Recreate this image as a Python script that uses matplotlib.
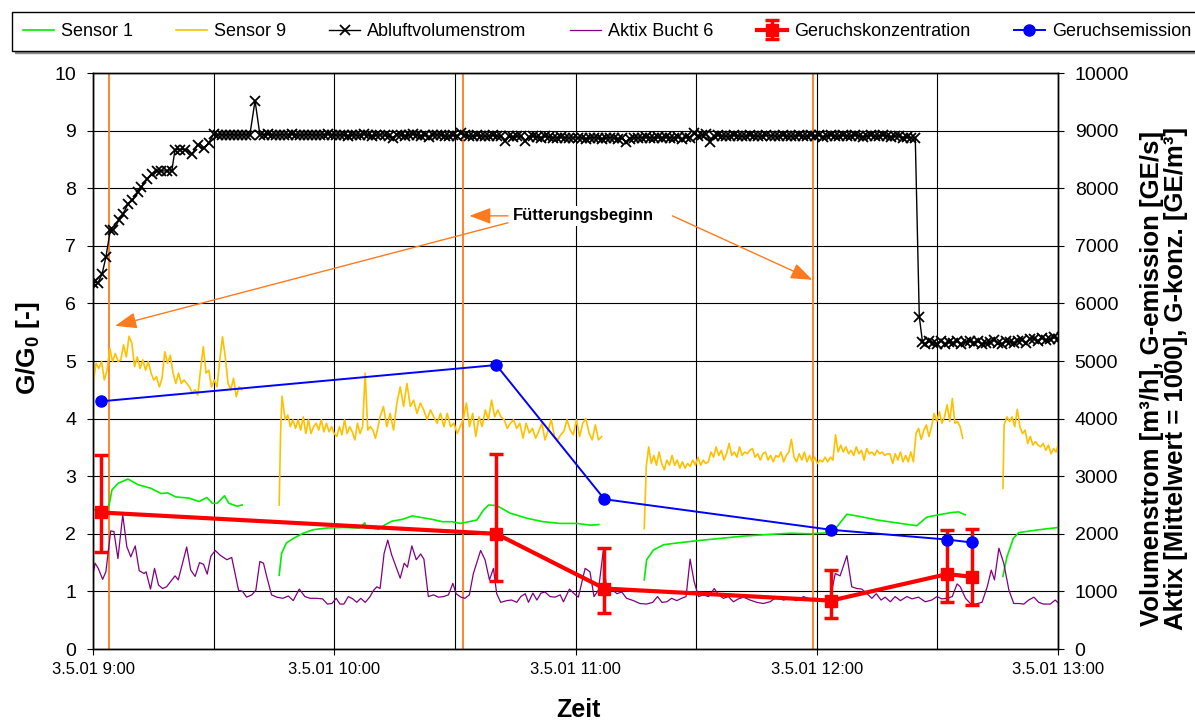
import numpy as np
import matplotlib
matplotlib.use('Agg')
import matplotlib.pyplot as plt

plt.rcParams['font.family'] = ['Liberation Sans', 'DejaVu Sans']
plt.rcParams['mathtext.fontset'] = 'custom'
plt.rcParams['mathtext.rm'] = 'Liberation Sans'
plt.rcParams['mathtext.bf'] = 'Liberation Sans:bold'

# ---------------- data (time in minutes after 3.5.01 9:00) ----------------
xtick_minutes = [0, 60, 120, 180, 240]
xtick_labels = ['3.5.01 9:00', '3.5.01 10:00', '3.5.01 11:00', '3.5.01 12:00', '3.5.01 13:00']

# Sensor 1 (G/G0), segments of (time, value)
s1_segments = [
    ([0, 2.6, 3.5, 4.1, 4.7, 6.3, 8.7, 11.3, 14.4, 16.9, 18.6, 20.6, 23.9, 26.4, 28.3, 29.7, 30.9, 32.7, 33.8, 35.8, 37.1],
     [2.41, 2.43, 2.41, 2.53, 2.76, 2.88, 2.95, 2.85, 2.79, 2.70, 2.71, 2.64, 2.62, 2.56, 2.63, 2.53, 2.53, 2.66, 2.53, 2.48, 2.50]),
    ([46.3, 46.9, 48.1, 49.8, 52.3, 54.7, 58, 62.2, 66.3, 67.6, 67.8, 69.4, 71, 72.7, 74.4, 76.9, 79.4, 81.9, 84.4, 86.9,
      89.3, 91.4, 95.5, 97.1, 98.4, 100.4, 103.7, 107.9, 112, 116.2, 120.4, 123.7, 125.8],
     [1.28, 1.66, 1.84, 1.92, 2.01, 2.07, 2.10, 2.11, 2.10, 2.19, 2.10, 2.10, 2.08, 2.16, 2.22, 2.25, 2.31, 2.28, 2.25, 2.21,
      2.21, 2.18, 2.24, 2.41, 2.50, 2.49, 2.36, 2.27, 2.21, 2.18, 2.18, 2.15, 2.16]),
    ([137.1, 137.7, 139.4, 141.9, 145.2, 150.2, 156, 161.8, 168.4, 173.4, 178.4, 183.3, 185, 187.5, 190.8, 195, 199.9,
      204.9, 206.2, 207.4, 210.3, 213.6, 215.3, 216.9],
     [1.20, 1.55, 1.72, 1.81, 1.84, 1.88, 1.92, 1.96, 1.99, 2.01, 2.00, 2.02, 2.12, 2.34, 2.30, 2.24, 2.19,
      2.14, 2.22, 2.29, 2.33, 2.37, 2.38, 2.33]),
    ([226.3, 227.3, 228.9, 230.2, 233.1, 236.4, 240.1],
     [1.26, 1.60, 1.92, 2.02, 2.05, 2.08, 2.11]),
]

# Sensor 9 (G/G0): segments made of evenly sampled chunks (t_start, t_end, values)
s9_segments = [
    [(0.08, 37.0, [4.64, 4.96, 4.87, 4.99, 4.67, 4.84, 5.22, 4.99, 5.13, 4.99,
                   5.02, 5.28, 5.07, 5.43, 5.31, 4.90, 5.07, 4.87, 5.02, 4.84,
                   4.99, 4.79, 4.67, 4.73, 4.55, 4.70, 5.16, 4.96, 5.10, 4.79,
                   4.61, 4.79, 4.61, 4.67, 4.61, 4.55, 4.44, 4.50, 4.41, 4.84,
                   5.25, 4.79, 4.84, 4.55, 4.67, 4.55, 5.02, 5.42, 5.07, 4.61,
                   4.50, 4.70, 4.38, 4.55, 4.50])],
    [(46.3, 47.0, [2.5, 3.74, 4.39]),
     (47.8, 70.9, [3.98, 4.06, 3.86, 3.98, 3.83, 3.98, 3.80, 4.03, 3.74, 3.98,
                   3.74, 3.86, 3.92, 3.80, 3.98, 3.77, 3.92, 3.77, 3.86, 3.74,
                   3.69, 3.86, 3.72, 3.98, 3.74, 3.86, 3.77, 3.63, 3.92, 3.74,
                   3.86, 4.79, 3.80, 3.86, 3.80, 3.66, 3.86]),
     (71.4, 90.6, [4.03, 4.21, 3.86, 4.09, 3.80, 4.27, 4.55, 4.21, 4.61, 4.21,
                   4.32, 4.09, 4.27, 4.15, 3.98, 4.15, 4.03, 3.92, 4.09, 3.86,
                   4.09, 3.86, 3.92, 3.74]),
     (91.3, 126.5, [3.86, 3.98, 4.27, 3.86, 4.09, 3.69, 4.03, 3.86, 4.15, 3.98,
                    4.32, 4.03, 4.15, 4.03, 3.98, 3.83, 3.92, 3.98, 3.83, 3.92,
                    3.66, 3.92, 3.75, 3.83, 3.66, 3.78, 3.92, 3.63, 3.80, 3.98,
                    3.69, 3.63, 3.72, 3.78, 3.98, 3.80, 3.72, 3.98, 3.69, 3.92,
                    4.00, 3.75, 3.63, 3.89, 3.63, 3.69])],
    [(137.1, 137.6, [2.09, 3.17]),
     (138.2, 216.3, [3.51, 3.22, 3.36, 3.19, 3.42, 3.22, 3.11, 3.28, 3.19, 3.36,
                     3.19, 3.28, 3.14, 3.25, 3.14, 3.22, 3.17, 3.28, 3.19, 3.33,
                     3.19, 3.28, 3.22, 3.25, 3.42, 3.33, 3.51, 3.36, 3.45, 3.28,
                     3.39, 3.57, 3.36, 3.42, 3.33, 3.51, 3.36, 3.42, 3.39, 3.45,
                     3.48, 3.33, 3.39, 3.28, 3.39, 3.42, 3.28, 3.36, 3.25, 3.36,
                     3.33, 3.42, 3.25, 3.36, 3.42, 3.64, 3.33, 3.25, 3.39, 3.28,
                     3.42, 3.25, 3.36, 3.25, 3.33, 3.22, 3.28, 3.25, 3.33, 3.25,
                     3.33, 3.28, 3.72, 3.42, 3.54, 3.42, 3.51, 3.39, 3.45, 3.36,
                     3.51, 3.39, 3.45, 3.28, 3.48, 3.39, 3.42, 3.36, 3.45, 3.39,
                     3.42, 3.36, 3.39, 3.39, 3.22, 3.39, 3.28, 3.42, 3.25, 3.36,
                     3.25, 3.42, 3.25, 3.74, 3.83, 3.64, 3.80, 3.89, 3.69, 3.86,
                     4.09, 3.95, 4.12, 3.92, 4.03, 4.24, 3.95, 4.35, 3.92, 3.95,
                     3.86, 3.66])],
    [(226.3, 226.6, [2.79, 3.89]),
     (227.3, 240.2, [4.03, 3.95, 4.03, 3.86, 4.16, 3.86, 3.74, 3.80, 3.57, 3.69,
                     3.54, 3.60, 3.54, 3.51, 3.57, 3.45, 3.54, 3.39, 3.48, 3.42,
                     3.60])],
]

# Abluftvolumenstrom [m3/h]
vol_rise_t = [0, 1.25, 2.25, 3.2, 4.3, 5, 6.5, 7.5, 8.75, 9.8, 11.25, 12, 13.5, 14.6, 15.8, 17, 18.3, 19.6,
              20.4, 21.7, 23, 24.6, 26, 27.5, 28.75, 30]
vol_rise_v = [6360, 6360, 6510, 6800, 7270, 7270, 7450, 7560, 7730, 7790, 7930, 8020, 8160, 8250, 8290, 8300, 8300, 8300,
              8670, 8670, 8670, 8590, 8750, 8690, 8780, 8940]
vol_flat1_v = [8930, 8930, 8920, 8930, 8930, 8920, 8930, 8930, 8920]          # 9:31 ... 9:39
vol_peak_t, vol_peak_v = 40.3, 9520
vol_flat2_v = [8930, 8930, 8940, 8930, 8920, 8930, 8930, 8930, 8940, 8930, 8920, 8930, 8930, 8930, 8920, 8930, 8930, 8940, 8930,
               8920, 8930, 8920, 8910, 8930, 8920, 8920, 8940, 8920, 8910, 8920, 8930, 8920, 8900, 8880, 8920, 8930, 8910, 8920, 8940,
               8930, 8910, 8920, 8890, 8920, 8930, 8920, 8910, 8900, 8920,
               8910, 8950, 8920, 8910, 8900, 8920, 8910, 8900, 8910, 8920, 8900, 8910, 8820, 8900, 8890, 8900, 8910, 8820, 8890, 8900,
               8890, 8880, 8900, 8890, 8880, 8870, 8890, 8880, 8870, 8880,
               8870, 8880, 8860, 8870, 8880, 8870, 8860, 8870, 8880, 8870, 8860, 8870, 8800, 8860, 8880, 8870, 8880, 8890, 8880, 8870,
               8890, 8880, 8890, 8880, 8870, 8890, 8850, 8890, 8880, 8950,
               8900, 8920, 8940, 8810, 8900, 8920, 8910, 8900, 8910, 8920, 8910, 8900, 8910, 8920, 8910, 8900, 8910, 8920, 8910, 8910,
               8900, 8920, 8910, 8900, 8910, 8920, 8910, 8900, 8920, 8910,
               8920, 8890, 8900, 8930, 8910, 8900, 8920, 8910, 8900, 8930, 8910, 8890, 8910, 8920, 8900, 8910, 8920, 8900, 8890, 8910,
               8900, 8880, 8890, 8870, 8880]                                    # 9:41.5 ... 12:24.5
vol_drop_t = [205.5, 206.3]
vol_drop_v = [5770, 5330]
vol_low_v = [5300, 5340, 5320, 5300, 5350, 5290, 5330, 5310, 5340, 5300, 5330, 5350, 5320, 5340, 5300, 5310, 5330, 5370,
             5320, 5300, 5340, 5330, 5310, 5350, 5360, 5320, 5390, 5380, 5350, 5400, 5360, 5380, 5410, 5390, 5420]  # 12:27 ... 13:01

# Aktix Bucht 6 [Mittelwert = 1000]
akt_t = [0, 0.5, 1.3, 2.4, 3.2, 4.4, 5.2, 6.2, 7.4, 8.4, 9.4, 10.5, 11.5, 12.7, 13.2, 14.3, 15.3, 16.3, 17.3, 18.3,
         20.4, 21.2, 23.3, 24.3, 25.4, 26.5, 27.5, 28.4, 29.3, 30.4, 31.6, 33.3, 34.5, 36.2, 37.2, 38.2, 39.5, 40.5, 41.5, 42.4,
         43.2, 44.4, 45.7, 47.2, 48.6, 49.8, 51.3, 52.7, 54, 55.6, 57.1, 58.3, 59.4, 60.5, 61.4, 62.4, 63.5, 64.6, 65.6, 66.6,
         67.7, 68.8, 69.8, 70.6, 71.4, 72.4, 73.3, 74.3, 75.4, 76.4, 77.4, 78.2, 79.3, 80.4, 81.5, 82.3, 83.4, 84.7, 85.9, 87.2,
         88.4, 89.5, 90.3, 91.5, 92.5, 93.6, 94.6, 96.4, 97.5, 98.6, 99.6, 100.4, 101.4, 102.9, 104.1, 105.4, 106.4, 107.5, 108.3, 109.4,
         110.4, 111.4, 112.4, 113.7, 114.9, 116.2, 117, 118.5, 119.5, 120.7,
         122.4, 123.6, 124.6, 125.7, 126.9, 127.8, 129, 130.3, 131.5, 132.7, 134.4, 136, 137.7, 139.2, 140.4, 141.5, 142.7, 143.9, 145.2, 146.4,
         147.5, 148.5, 149.5, 150.6, 151.8, 153.1, 154.5, 155.6, 156.8, 158, 159.3, 160.5, 161.8, 163.4, 165.1, 166.7, 168.4, 170, 171.7, 173.3,
         175, 176.7, 178.3, 179.6, 181.7, 183.3, 184.6, 185.8, 187.5, 188.7, 190, 191.2, 192.5, 193.7, 194.8, 196, 197, 198.3, 199.5, 200.8,
         202.4, 203.7, 205.3, 207, 208.6, 209.9, 211.1, 212.4, 213.7, 214.9, 215.7, 217, 218.2, 219.5, 221.1, 222.4, 223.4, 224.2, 225.3, 226.5,
         227.8, 229, 230.3, 231.5, 232.7, 234, 235.2, 236.4, 238.1, 239.3, 240.4]
akt_v = [1280, 1490, 1400, 1210, 1340, 2050, 2040, 1570, 2330, 1780, 1600, 1790, 1360, 1310, 1340, 1040, 1400, 1110, 1050, 1080,
         1270, 1200, 1770, 1370, 1260, 1500, 1470, 1300, 1610, 1710, 1630, 1550, 1590, 1020, 1000, 900, 940, 1020, 1520, 1490,
         1260, 940, 900, 880, 920, 840, 1040, 910, 880, 880, 870, 780, 790, 880, 780, 780, 910, 870, 810, 880,
         810, 900, 1020, 1080, 1050, 1660, 1890, 1630, 1420, 1230, 1490, 1420, 1790, 1550, 1650, 1560, 910, 940, 900, 910,
         940, 1140, 960, 900, 880, 940, 1310, 1710, 1550, 1200, 1400, 960, 810, 840, 850, 810, 910, 960, 810, 970,
         850, 970, 990, 910, 900, 940, 820, 1040, 970, 900,
         1400, 1340, 910, 1020, 1700, 960, 1040, 960, 990, 880, 840, 790, 780, 810, 910, 810, 820, 880, 840, 880,
         910, 1560, 1170, 910, 940, 910, 1050, 940, 880, 910, 820, 870, 900, 850, 810, 790, 820, 900, 850, 880,
         840, 910, 870, 880, 840, 850, 1310, 1270, 1620, 1080, 1050, 1040, 960, 880, 960, 850, 900, 820, 910, 840,
         910, 870, 900, 820, 850, 910, 870, 880, 910, 1130, 1080, 880, 790, 780, 810, 1080, 1370, 1200, 1750, 1490,
         1020, 790, 790, 780, 850, 900, 810, 780, 780, 850, 780]

# Olfactometric samples
probe_t = [2, 100.3, 127.2, 183.5, 212.4, 218.5]
konz = [2370, 2000, 1050, 840, 1300, 1255]              # Geruchskonzentration [GE/m3]
konz_low = [1680, 1180, 630, 530, 810, 760]
konz_high = [3360, 3390, 1760, 1370, 2060, 2090]
emission = [4300, 4930, 2600, 2070, 1900, 1850]         # Geruchsemission [GE/s]

feed_start_t = [4, 92, 179]                             # Fütterungsbeginn

# ---------------- figure ----------------
W, H = 1195, 720
fig = plt.figure(figsize=(W / 100, H / 100), dpi=100)
ax = fig.add_axes([93 / W, 1 - 649 / H, 965 / W, 576 / H])
ax2 = ax.twinx()

GREEN = '#00EE00'
GOLD = '#FFC000'
PURPLE = '#800080'
ORANGE = '#FF7A1C'


def build(chunks):
    ts, vs = [], []
    for t0, t1, vals in chunks:
        ts.append(np.linspace(t0, t1, len(vals)))
        vs.append(np.asarray(vals, float))
    return np.concatenate(ts), np.concatenate(vs)


h_s1 = None
for tt, vv in s1_segments:
    h_s1, = ax.plot(tt, vv, color=GREEN, lw=1.2, zorder=3)

h_s9 = None
for seg in s9_segments:
    tt, vv = build(seg)
    h_s9, = ax.plot(tt, vv, color=GOLD, lw=1.2, zorder=3)

for t in feed_start_t:
    ax.axvline(t, color=ORANGE, lw=1.3, zorder=2)

# volume flow
vol_t = np.concatenate([vol_rise_t, np.arange(31, 40), [vol_peak_t], np.arange(41.5, 205, 1.0),
                        vol_drop_t, np.arange(207, 242, 1.0)])
vol_v = np.concatenate([vol_rise_v, vol_flat1_v, [vol_peak_v], vol_flat2_v, vol_drop_v, vol_low_v])

h_ak, = ax2.plot(akt_t, akt_v, color=PURPLE, lw=0.9, zorder=2)
h_rk = ax2.errorbar(probe_t, konz,
                    yerr=[np.array(konz) - np.array(konz_low), np.array(konz_high) - np.array(konz)],
                    color='#FF0000', lw=3, marker='s', ms=8.5, ecolor='#FF0000', elinewidth=2.5,
                    capsize=5, capthick=2.5, zorder=3)
h_em, = ax2.plot(probe_t, emission, color='#0000FF', lw=1.4, marker='o', ms=8, zorder=4)
h_bl, = ax2.plot(vol_t, vol_v, color='black', lw=1.0, marker='x', ms=6.5, mew=1.3, zorder=5)

# axes
ax.set_xlim(0, 240)
ax.set_ylim(0, 10)
ax2.set_ylim(0, 10000)
ax.set_yticks(range(0, 11))
ax2.set_yticks(range(0, 10001, 1000))
ax.set_xticks(xtick_minutes)
ax.set_xticklabels(xtick_labels)
ax.set_xticks([30, 90, 150, 210], minor=True)

ax.set_axisbelow(True)
ax.grid(True, which='both', axis='x', color='black', lw=0.8)
ax.grid(True, which='major', axis='y', color='black', lw=0.8)

ax.tick_params(axis='x', which='major', direction='out', length=4, width=0.8, labelsize=12, pad=5)
ax.tick_params(axis='x', which='minor', length=0)
ax.tick_params(axis='y', direction='out', length=4, width=0.8, labelsize=14, pad=8)
ax2.tick_params(axis='y', direction='out', length=4, width=0.8, labelsize=14, pad=8)
for a in (ax, ax2):
    for s in a.spines.values():
        s.set_color('black')
        s.set_linewidth(1.0)

# annotations
arrow_kw = dict(arrowstyle='-|>,head_length=1.2,head_width=0.45', color=ORANGE, lw=1.0,
                shrinkA=0, shrinkB=0, mutation_scale=11)
ax.annotate('', xy=(5.5, 5.61), xytext=(103.2, 7.40), arrowprops=arrow_kw, zorder=6)
ax.annotate('', xy=(93.6, 7.52), xytext=(103.2, 7.52), arrowprops=arrow_kw, zorder=6)
ax.annotate('', xy=(178.9, 6.41), xytext=(144.1, 7.52), arrowprops=arrow_kw, zorder=6)
ax.text(121.9, 7.52, 'Fütterungsbeginn', ha='center', va='center', fontsize=12, fontweight='bold',
        bbox=dict(facecolor='white', edgecolor='none', pad=2), zorder=7)

# axis titles
fig.text(28 / W, 1 - 348 / H, r'G/G$_\mathbf{0}$ [-]', rotation=90, ha='center', va='center',
         fontsize=19, fontweight='bold')
fig.text(1164 / W, 1 - 378 / H,
         'Volumenstrom [m³/h], G-emission [GE/s]\nAktix [Mittelwert = 1000], G-konz. [GE/m³]',
         rotation=90, ha='center', va='center', fontsize=18.5, fontweight='bold', linespacing=1.05)
fig.text(578 / W, 1 - 710 / H, 'Zeit', ha='center', va='center', fontsize=18, fontweight='bold')

# legend
leg = fig.legend([h_s1, h_s9, h_bl, h_ak, h_rk, h_em],
                 ['Sensor 1', 'Sensor 9', 'Abluftvolumenstrom', 'Aktix Bucht 6',
                  'Geruchskonzentration', 'Geruchsemission'],
                 loc='upper left', bbox_to_anchor=(12 / W, 1 - 12 / H), ncol=6, fontsize=13,
                 frameon=True, fancybox=False, edgecolor='black', handlelength=1.7,
                 handletextpad=0.4, columnspacing=2.4, borderpad=0.6, borderaxespad=0,
                 shadow={'ox': 2, 'oy': -2, 'color': '0.55', 'alpha': 1})
leg.get_frame().set_linewidth(1.0)

fig.savefig('out.png', dpi=100)
